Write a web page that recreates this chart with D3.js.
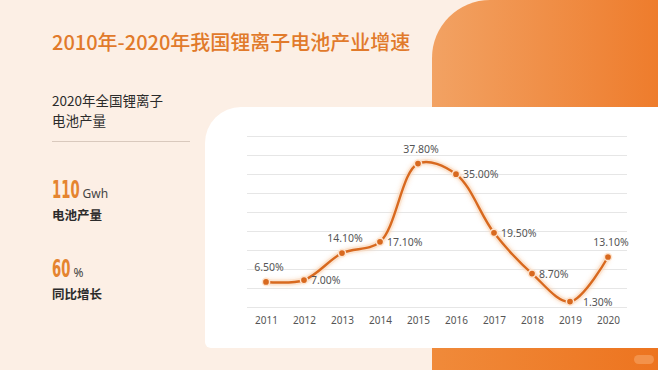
<!DOCTYPE html>
<html><head><meta charset="utf-8">
<script src="https://cdn.jsdelivr.net/npm/d3@7/dist/d3.min.js"></script>
<style>
html,body{margin:0;padding:0;background:#fcefe5;}
svg{display:block;font-family:"Noto Sans CJK SC","Noto Sans",sans-serif;}
</style></head>
<body>
<svg id="c" width="658" height="370"></svg>
<script>
const years = ["2011","2012","2013","2014","2015","2016","2017","2018","2019","2020"];
const growth = [6.5, 7.0, 14.1, 17.1, 37.8, 35.0, 19.5, 8.7, 1.3, 13.1];
const valueLabels = ["6.50%","7.00%","14.10%","17.10%","37.80%","35.00%","19.50%","8.70%","1.30%","13.10%"];
const labelSide = ["top","right","top","right","top","right","right","right","right","top"];
const yTicks = [0,5,10,15,20,25,30,35,40,45];
const titleText = "2010年-2020年我国锂离子电池产业增速";
const subtitleLines = ["2020年全国锂离子","电池产量"];
const kpiValues = ["110","60"];
const kpiUnits = ["Gwh","%"];
const kpiNames = ["电池产量","同比增长"];

const svg = d3.select("#c");
const W = 658, H = 370;
const defs = svg.append("defs");
const g1 = defs.append("linearGradient").attr("id","og").attr("x1","0").attr("x2","1").attr("y1","0").attr("y2","0");
g1.append("stop").attr("offset","0").attr("stop-color","#f2a263");
g1.append("stop").attr("offset","1").attr("stop-color","#ee7c2c");
const g2 = defs.append("linearGradient").attr("id","ob").attr("x1","0").attr("x2","1");
g2.append("stop").attr("offset","0").attr("stop-color","#f08a3a");
g2.append("stop").attr("offset","1").attr("stop-color","#ed741f");
const glow = defs.append("filter").attr("id","glow").attr("x","-20%").attr("y","-20%").attr("width","140%").attr("height","140%");
glow.append("feGaussianBlur").attr("stdDeviation","2.2").attr("result","b");
const fm = glow.append("feMerge");
fm.append("feMergeNode").attr("in","b");
fm.append("feMergeNode").attr("in","SourceGraphic");

// background
svg.append("rect").attr("width",W).attr("height",H).attr("fill","#fcefe5");
// orange top-right shape
const r0 = 58;
svg.append("path").attr("fill","url(#og)")
  .attr("d",`M432,${r0} A${r0},${r0} 0 0 1 ${432+r0},0 L${W},0 L${W},110 L432,110 Z`);
// orange bottom bar
svg.append("rect").attr("x",432).attr("y",347).attr("width",W-432).attr("height",H-347).attr("fill","url(#ob)");
svg.append("rect").attr("x",634).attr("y",355).attr("width",20).attr("height",9).attr("rx",4.5).attr("fill","#f3924a");
// white card
const cx0 = 205, cy0 = 107, cy1 = 348, rc = 36, rb = 6;
svg.append("path").attr("fill","#ffffff")
  .attr("d",`M${cx0},${cy0+rc} A${rc},${rc} 0 0 1 ${cx0+rc},${cy0} L${W},${cy0} L${W},${cy1} L${cx0+rb},${cy1} A${rb},${rb} 0 0 1 ${cx0},${cy1-rb} Z`);

// title
svg.append("text").attr("x",52).attr("y",50).attr("font-size",20).attr("font-weight",500)
  .attr("fill","#e17a2b").text(titleText);
// subtitle
subtitleLines.forEach((t,i)=>{
  svg.append("text").attr("x",52).attr("y",106+i*20).attr("font-size",13.5).attr("fill","#2b2b2b").text(t);
});
svg.append("line").attr("x1",52).attr("x2",190).attr("y1",141.5).attr("y2",141.5).attr("stroke","#d9c9bd").attr("stroke-width",1);

// KPIs (condensed numerals via horizontal scaling)
const kpiY = [197.5, 277];
kpiValues.forEach((v,i)=>{
  const target = v.length * 9.2;
  const g = svg.append("g").attr("transform",`translate(52,${kpiY[i]})`);
  const t = g.append("text").attr("x",0).attr("y",0)
    .attr("font-family","'DejaVu Sans',sans-serif")
    .attr("font-size",24.5).attr("font-weight",700).attr("fill","#e5842f").text(v);
  const nat = t.node().getComputedTextLength();
  const sx = target / nat;
  g.attr("transform",`translate(52,${kpiY[i]}) scale(${sx},1)`);
  svg.append("text").attr("x",52+target+3).attr("y",kpiY[i]).attr("font-size",12).attr("fill","#444")
    .attr("font-family","'Noto Sans',sans-serif").text(kpiUnits[i]);
  svg.append("text").attr("x",52).attr("y",kpiY[i]+22).attr("font-size",12.5).attr("font-weight",700)
    .attr("fill","#2b2b2b").text(kpiNames[i]);
});

// chart
const x = d3.scalePoint().domain(years).range([247,627]).padding(0.5);
const y = d3.scaleLinear().domain([0,45]).range([306.5,136.4]);

const grid = svg.append("g");
grid.selectAll("line").data(yTicks).join("line")
  .attr("x1",247).attr("x2",627).attr("y1",d=>Math.round(y(d))+0.5).attr("y2",d=>Math.round(y(d))+0.5)
  .attr("stroke","#e6e6e6").attr("stroke-width",1);

const xAxis = svg.append("g").attr("transform","translate(0,306.5)")
  .call(d3.axisBottom(x).tickSize(0).tickPadding(10));
xAxis.select(".domain").remove();
xAxis.selectAll("text").attr("font-size",10).attr("fill","#555").attr("font-family","'Noto Sans',sans-serif");

const pts = years.map((yr,i)=>[x(yr), y(growth[i])]);
const line = d3.line().curve(d3.curveCatmullRom.alpha(0.5));
svg.append("path").attr("d",line(pts)).attr("fill","none").attr("stroke","#f9d3b3").attr("stroke-width",6).attr("opacity",0.6).attr("filter","url(#glow)");
svg.append("path").attr("d",line(pts)).attr("fill","none").attr("stroke","#d8691f").attr("stroke-width",2.4);

svg.append("g").selectAll("circle").data(pts).join("circle")
  .attr("cx",d=>d[0]).attr("cy",d=>d[1]).attr("r",3.6)
  .attr("fill","#d8691f").attr("stroke","#fde4cf").attr("stroke-width",1.5);

svg.append("g").selectAll("text").data(pts).join("text")
  .attr("x",(d,i)=> labelSide[i]==="top" ? d[0]+3 : d[0]+ (i===8?13:7))
  .attr("y",(d,i)=> labelSide[i]==="top" ? d[1]-11 : d[1]+4)
  .attr("text-anchor",(d,i)=> labelSide[i]==="top" ? "middle" : "start")
  .attr("font-size",10.5).attr("fill","#555").attr("font-family","'Noto Sans',sans-serif")
  .text((d,i)=>valueLabels[i]);
</script>
</body></html>
